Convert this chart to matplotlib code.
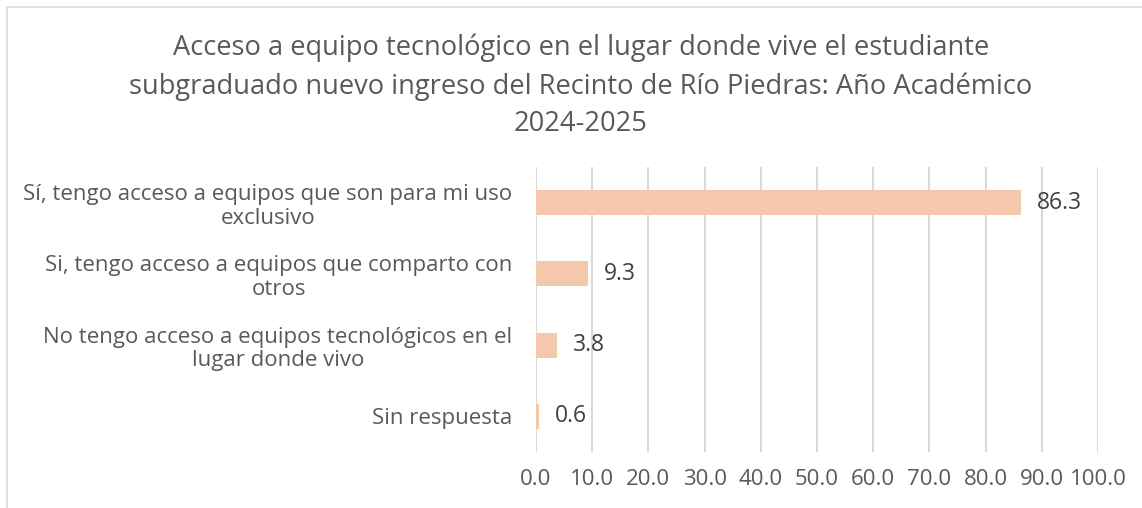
import matplotlib
matplotlib.use("Agg")
import matplotlib.pyplot as plt
from matplotlib.patches import Rectangle

categories = [
    "Sí, tengo acceso a equipos que son para mi uso\nexclusivo",
    "Si, tengo acceso a equipos que comparto con\notros",
    "No tengo acceso a equipos tecnológicos en el\nlugar donde vivo",
    "Sin respuesta",
]
values = [86.3, 9.3, 3.8, 0.6]
xticks = [0, 10, 20, 30, 40, 50, 60, 70, 80, 90, 100]
title = ("Acceso a equipo tecnológico en el lugar donde vive el estudiante\n"
         "subgraduado nuevo ingreso del Recinto de Río Piedras: Año Académico\n"
         "2024-2025")

plt.rcParams['font.family'] = ['Open Sans', 'DejaVu Sans']

W, H = 1142, 508
fig = plt.figure(figsize=(W / 100, H / 100), dpi=100)
fig.patch.set_facecolor('white')

# chart border
fig.patches.append(Rectangle((7 / W, -0.1), 1.2, 1 - 7 / H + 0.1,
                             transform=fig.transFigure, fill=False,
                             edgecolor='#D9D9D9', linewidth=1.2))

ax = fig.add_axes([536 / W, 1 - 452 / H, (1098 - 536) / W, (452 - 167) / H])
ypos = list(range(len(categories)))
ax.barh(ypos, values, height=0.35, color='#F5C8AC', zorder=3)
ax.set_ylim(len(categories) - 0.5, -0.5)
ax.set_xlim(0, 100)
ax.set_xticks(xticks)
ax.set_xticklabels([f"{t:.1f}" for t in xticks], fontsize=16, color='#595959')
ax.set_yticks(ypos)
ax.set_yticklabels(categories, fontsize=16, color='#595959',
                   multialignment='center', linespacing=1.15)
ax.tick_params(axis='both', length=0)
ax.tick_params(axis='y', pad=17)
ax.tick_params(axis='x', pad=12)
ax.grid(axis='x', color='#D9D9D9', linewidth=1.5, zorder=0)
for s in ax.spines.values():
    s.set_visible(False)

for y, v in zip(ypos, values):
    ax.annotate(f"{v:.1f}", xy=(v, y), xytext=(11.5, 0), textcoords='offset points',
                va='center', ha='left', fontsize=16.5, color='#404040')

fig.text(581 / W, 1 - 86 / H, title, ha='center', va='center', fontsize=19.6,
         color='#595959', linespacing=1.45)

fig.savefig('out.png', dpi=100, facecolor='white')
